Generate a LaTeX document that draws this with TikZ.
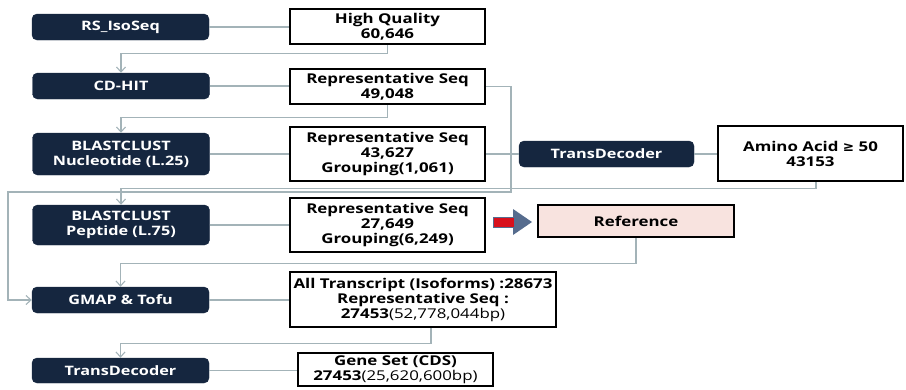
\documentclass[tikz,border=0pt]{standalone}
\usepackage{fontspec}
\setmainfont{Open Sans}[FakeStretch=1.25]
\newfontfamily\symfont{DejaVu Sans}
\usetikzlibrary{arrows.meta,calc}
\definecolor{navy}{HTML}{15263F}
\definecolor{conncol}{HTML}{A3B3B8}
\definecolor{refpink}{HTML}{F8E3DF}
\definecolor{arrred}{HTML}{D8101C}
\definecolor{arrblue}{HTML}{566C8E}
\newcommand\mydfont{\fontsize{13}{15}\selectfont\bfseries}
\newcommand\mywfont{\fontsize{13.5}{15}\selectfont\bfseries}
\begin{document}
\begin{tikzpicture}[x=1pt,y=-1pt,
  darkbox/.style={rounded corners=5pt, fill=navy, draw=navy, text=white, inner sep=0pt,
    minimum width=177pt, align=center, font=\mydfont},
  whitebox/.style={draw=black, line width=2.2pt, fill=white, inner sep=0pt, align=center, font=\mywfont},
  conn/.style={draw=conncol, line width=1.1pt},
  arr/.style={conn, -{Straight Barb[length=5pt,width=9pt]}}]
\useasboundingbox (0,0) rectangle (906,389);
% left column
\node[darkbox, minimum height=26pt] (rs) at (120.5,27) {RS\_IsoSeq};
\node[darkbox, minimum height=26pt] (cdhit) at (121,86) {CD-HIT};
\node[darkbox, minimum height=42pt] (bcn) at (121,154) {BLASTCLUST\\Nucleotide (L.25)};
\node[darkbox, minimum height=40pt] (bcp) at (121,225) {BLASTCLUST\\Peptide (L.75)};
\node[darkbox, minimum height=26pt] (gmap) at (120.5,300) {GMAP \& Tofu};
\node[darkbox, minimum height=25pt] (td) at (120.5,370.5) {TransDecoder};
% result boxes
\node[whitebox, minimum width=195pt, minimum height=35pt] (hq) at (387.5,26.5) {High Quality\\60,646};
\node[whitebox, minimum width=195pt, minimum height=35pt] (rs1) at (387.5,86.5) {Representative Seq\\49,048};
\node[whitebox, minimum width=195pt, minimum height=54pt] (rs2) at (387.5,154) {Representative Seq\\43,627\\Grouping(1,061)};
\node[whitebox, minimum width=195pt, minimum height=54pt] (rs3) at (387.5,225) {Representative Seq\\27,649\\Grouping(6,249)};
\node[whitebox, minimum width=266pt, minimum height=55pt] (all) at (423,299.5) {All Transcript (Isoforms) :28673\\Representative Seq :\\27453{\mdseries(52,778,044bp)}};
\node[whitebox, minimum width=195pt, minimum height=33pt] (gene) at (395.5,369.5) {Gene Set (CDS)\\27453{\mdseries(25,620,600bp)}};
% right side
\node[darkbox, minimum width=175pt, minimum height=26pt] (td2) at (606.5,154) {TransDecoder};
\node[whitebox, minimum width=185pt, minimum height=55pt] (aa) at (810.5,153.5) {Amino Acid {\symfont\bfseries ≥} 50\\43153};
\node[whitebox, fill=refpink, minimum width=196pt, minimum height=32pt] (ref) at (636,221) {Reference};
% connectors
\coordinate (j1) at (511,192);
\coordinate (j0) at (8,192);
\draw[conn] (rs.east) -- (rs.east -| hq.west);
\draw[arr] (hq.south) -- ++(0,8) -| (cdhit.north);
\draw[conn] (cdhit.east) -- (cdhit.east -| rs1.west);
\draw[arr] (rs1.south) -- ++(0,12) -| (bcn.north);
\draw[conn] (bcn.east) -- (bcn.east -| rs2.west);
\draw[arr] (rs1.east) -| (j1) -- (j0) |- (gmap.west);
\draw[conn] (rs2.east) -- (rs2.east -| td2.west);
\draw[conn] (td2.east) -- (td2.east -| aa.west);
\draw[arr] ($(aa.south)+(5.5,0)$) -- ++(0,6) -| (bcp.north);
\draw[conn] (bcp.east) -- (bcp.east -| rs3.west);
\draw[arr] (ref.south) -- ++(0,25) -| (gmap.north);
\draw[conn] (gmap.east) -- (gmap.east -| all.west);
\draw[arr] ($(all.south)+(8,0)$) -- ++(0,15) -| (td.north);
\draw[conn] (td.east) -- (td.east -| gene.west);
% block arrow
\fill[arrblue] (513,209) -- (532,222) -- (513,235) -- cycle;
\filldraw[fill=arrred, draw=arrblue, line width=1pt] (493,217) rectangle (514,227);
\end{tikzpicture}
\end{document}
